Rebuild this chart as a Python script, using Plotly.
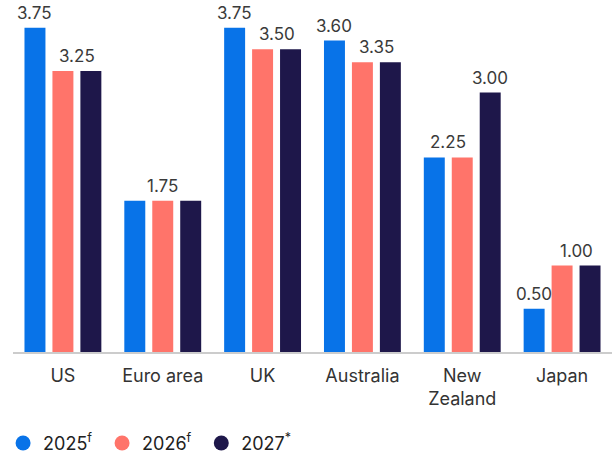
import plotly.graph_objects as go

categories = ["US", "Euro area", "UK", "Australia", "New<br>Zealand", "Japan"]
series_names = ["2025<sup>f</sup>&nbsp;", "2026<sup>f</sup>&nbsp;", "2027<sup>*</sup>"]
v2025 = [3.75, 1.75, 3.75, 3.60, 2.25, 0.50]
v2026 = [3.25, 1.75, 3.50, 3.35, 2.25, 1.00]
v2027 = [3.25, 1.75, 3.50, 3.35, 3.00, 1.00]
colors = ["#0873E8", "#FF746A", "#1E174A"]

series = [v2025, v2026, v2027]
fig = go.Figure()
for name, vals, c in zip(series_names, series, colors):
    fig.add_trace(go.Bar(x=categories, y=vals, marker=dict(color=c, line=dict(width=0)),
                         showlegend=False, hoverinfo="skip"))
    fig.add_trace(go.Scatter(x=[None], y=[None], mode="markers", name=name,
                             marker=dict(color=c, size=15, symbol="circle")))

# value labels: one per run of equal consecutive values, centred on the run
slot = 0.28
offsets = [-slot, 0, slot]
for i, cat in enumerate(categories):
    vals = [s[i] for s in series]
    j = 0
    while j < 3:
        k = j
        while k + 1 < 3 and vals[k + 1] == vals[j]:
            k += 1
        xpos = i + (offsets[j] + offsets[k]) / 2
        fig.add_annotation(x=xpos, y=vals[j], text=f"{vals[j]:.2f}", showarrow=False,
                           yanchor="bottom", yshift=3, xref="x", yref="y",
                           font=dict(size=17, color="#3a3a3a"))
        j = k + 1

fig.update_layout(
    width=614, height=456,
    margin=dict(l=12.5, r=1.5, t=6, b=104),
    barmode="group", bargap=0.16, bargroupgap=0.25,
    plot_bgcolor="white", paper_bgcolor="white",
    font=dict(family="Inter, sans-serif", size=18, color="#333333"),
    xaxis=dict(showline=True, linecolor="#cccccc", linewidth=2, ticks="",
               ticklabelstandoff=6, tickfont=dict(size=18, color="#333333"),
               showgrid=False, zeroline=False),
    yaxis=dict(range=[0, 4.0], visible=False, showgrid=False, zeroline=False),
    legend=dict(orientation="h", x=0.005, xref="container", y=0.028, yref="container",
                yanchor="middle", xanchor="left", font=dict(size=18, color="#222222"),
                itemwidth=30, tracegroupgap=0),
    showlegend=True,
)
fig.write_html("out.html")
